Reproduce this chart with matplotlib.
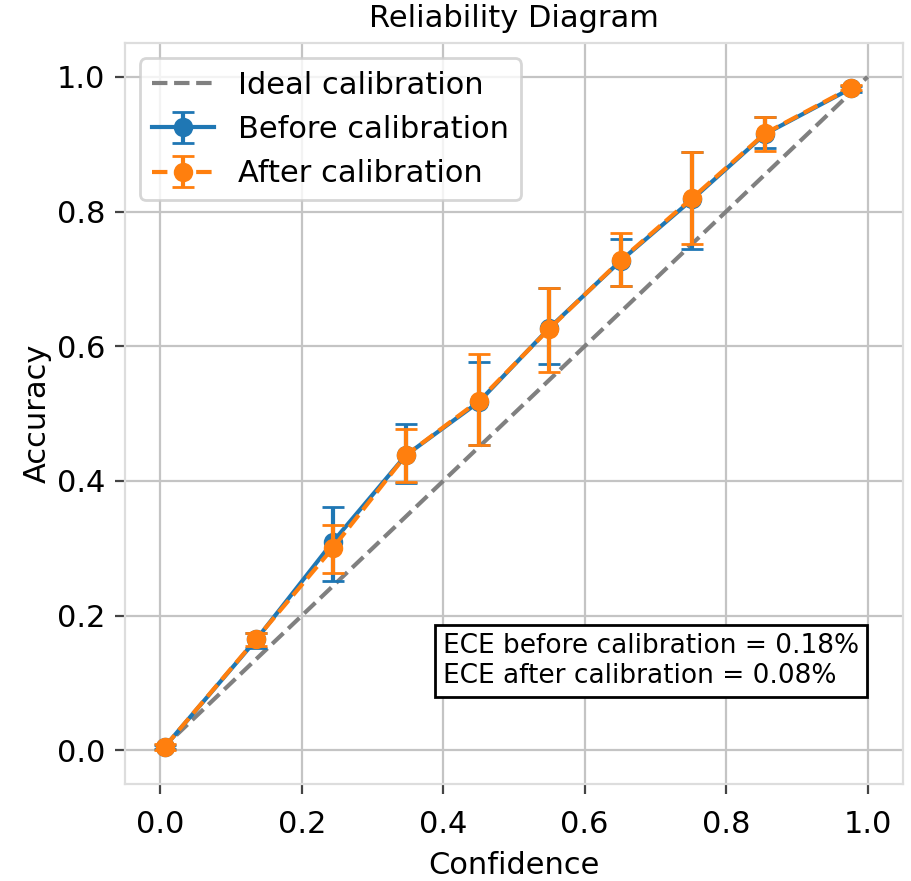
import matplotlib
matplotlib.use("Agg")
import matplotlib.pyplot as plt
import numpy as np

conf = [0.006, 0.136, 0.2435, 0.347, 0.450, 0.550, 0.651, 0.752, 0.855, 0.977]

acc_before = [0.005, 0.165, 0.309, 0.438, 0.517, 0.627, 0.727, 0.818, 0.915, 0.983]
err_before_lo = [0.003, 0.013, 0.057, 0.041, 0.064, 0.054, 0.038, 0.073, 0.021, 0.005]
err_before_hi = [0.003, 0.010, 0.053, 0.047, 0.060, 0.060, 0.033, 0.071, 0.025, 0.004]

acc_after = [0.005, 0.166, 0.300, 0.438, 0.519, 0.626, 0.728, 0.820, 0.916, 0.984]
err_after_lo = [0.004, 0.011, 0.037, 0.040, 0.0655, 0.0645, 0.0385, 0.068, 0.026, 0.004]
err_after_hi = [0.004, 0.008, 0.035, 0.039, 0.069, 0.0605, 0.040, 0.069, 0.024, 0.004]

ece_before = "0.18%"
ece_after = "0.08%"

fig = plt.figure(figsize=(4.56, 4.405), dpi=200)
ax = fig.add_axes([0.137, 0.110, 0.853, 0.841])

ax.plot([0, 1], [0, 1], linestyle='--', color='gray', label='Ideal calibration', zorder=2)
ax.errorbar(conf, acc_before, yerr=[err_before_lo, err_before_hi], fmt='-o',
            color='tab:blue', capsize=4, label='Before calibration', zorder=3)
ax.errorbar(conf, acc_after, yerr=[err_after_lo, err_after_hi], fmt='--o',
            color='tab:orange', capsize=4, label='After calibration', zorder=4)

ax.set_title('Reliability Diagram', fontsize=11)
ax.set_xlabel('Confidence', fontsize=11, labelpad=4)
ax.set_ylabel('Accuracy', fontsize=11, labelpad=2)
ax.set_xticks([0.0, 0.2, 0.4, 0.6, 0.8, 1.0])
ax.set_yticks([0.0, 0.2, 0.4, 0.6, 0.8, 1.0])
ax.tick_params(labelsize=11, color='#444444')
ax.tick_params(axis='x', pad=6)
ax.grid(True, color='#c4c4c4', linewidth=0.8)
ax.set_axisbelow(True)
for s in ax.spines.values():
    s.set_color('#dddddd')

ax.legend(loc='upper left', fontsize=11)
ax.text(0.409, 0.128, f"ECE before calibration = {ece_before}\nECE after calibration = {ece_after}",
        transform=ax.transAxes, ha='left', va='bottom', fontsize=9.5,
        bbox=dict(boxstyle='square,pad=0.3', facecolor='white', edgecolor='black'))

fig.savefig('out.png', dpi=200)
